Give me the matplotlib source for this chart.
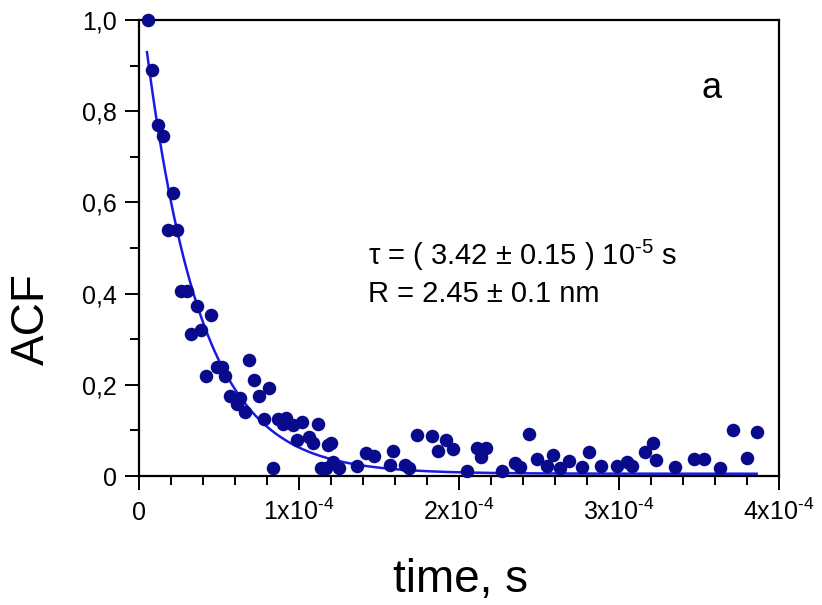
import numpy as np
import matplotlib
matplotlib.use("Agg")
import matplotlib.pyplot as plt

plt.rcParams['font.family'] = ['Liberation Sans', 'DejaVu Sans']
plt.rcParams['mathtext.fontset'] = 'custom'
plt.rcParams['mathtext.rm'] = 'Liberation Sans'
plt.rcParams['mathtext.it'] = 'Liberation Sans:italic'
plt.rcParams['mathtext.bf'] = 'Liberation Sans:bold'

# tiempo en unidades de 1e-5 s
tiempo = [0.56, 0.8, 1.2, 1.5, 1.8, 2.1, 2.4, 2.6, 3.0, 3.25, 3.6, 3.9, 4.2, 4.5,
          4.9, 5.2, 5.4, 5.7, 6.1, 6.3, 6.6, 6.9, 7.2, 7.5, 7.8, 8.1, 8.4, 8.7,
          9.0, 9.2, 9.6, 9.9, 10.2, 10.6, 10.9, 11.2, 11.4, 11.7, 11.8, 12.0,
          12.1, 12.5, 13.6, 14.2, 14.7, 15.7, 15.9, 16.6, 16.9, 17.4, 18.3,
          18.7, 19.2, 19.6, 20.5, 21.1, 21.4, 21.7, 22.7, 23.5, 23.8, 24.4,
          24.9, 25.5, 25.9, 26.3, 26.9, 27.7, 28.1, 28.9, 29.9, 30.5, 30.8,
          31.6, 32.1, 32.3, 33.5, 34.7, 35.3, 36.3, 37.1, 38.0, 38.6]
acf = [1.0, 0.89, 0.77, 0.745, 0.54, 0.62, 0.54, 0.405, 0.405, 0.311, 0.373, 0.32,
       0.22, 0.353, 0.24, 0.24, 0.22, 0.175, 0.158, 0.17, 0.14, 0.254, 0.21,
       0.175, 0.125, 0.193, 0.018, 0.125, 0.114, 0.127, 0.112, 0.079, 0.118,
       0.085, 0.072, 0.114, 0.018, 0.018, 0.068, 0.072, 0.03, 0.018, 0.022,
       0.05, 0.044, 0.024, 0.055, 0.024, 0.018, 0.09, 0.088, 0.055, 0.079,
       0.059, 0.011, 0.061, 0.042, 0.061, 0.011, 0.028, 0.02, 0.092, 0.037,
       0.022, 0.046, 0.018, 0.033, 0.02, 0.053, 0.022, 0.022, 0.031, 0.022,
       0.053, 0.072, 0.035, 0.02, 0.037, 0.037, 0.018, 0.1, 0.04, 0.096]

# parametros del ajuste exponencial
tau = 3.42e-5
amp = 1.07
base = 0.005
t_ini = 0.5e-5
t_fin = 3.86e-4

x_ticks = [0, 1e-4, 2e-4, 3e-4, 4e-4]
x_labels = ['0', r'1x10$^{\mathregular{‐4}}$', r'2x10$^{\mathregular{‐4}}$',
            r'3x10$^{\mathregular{‐4}}$', r'4x10$^{\mathregular{‐4}}$']
y_ticks = [0, 0.2, 0.4, 0.6, 0.8, 1.0]
y_labels = ['0', '0,2', '0,4', '0,6', '0,8', '1,0']

fig = plt.figure(figsize=(8.22, 6.05), dpi=100)
ax = fig.add_axes([139 / 822, 1 - 476 / 605, 640 / 822, 456 / 605])

t = np.array(tiempo) * 1e-5
ax.scatter(t, acf, s=95, color='#0a0a8c', zorder=3, clip_on=False, linewidths=0)

t_fit = np.linspace(t_ini, t_fin, 400)
ax.plot(t_fit, amp * np.exp(-t_fit / tau) + base, color='#1a1ae6', lw=1.8, zorder=2)

ax.set_xlim(0, 4e-4)
ax.set_ylim(0, 1.0)
ax.set_xticks(x_ticks)
ax.set_xticklabels(x_labels)
ax.set_yticks(y_ticks)
ax.set_yticklabels(y_labels)
ax.set_xticks(np.arange(0, 4.01e-4, 0.2e-4), minor=True)
ax.set_yticks(np.arange(0, 1.01, 0.1), minor=True)

ax.tick_params(which='major', direction='out', length=10, width=1.4, labelsize=18)
ax.tick_params(which='minor', direction='out', length=6.5, width=1.4)
ax.tick_params(axis='y', pad=6)
ax.tick_params(axis='x', pad=22)
for lab in ax.get_xticklabels():
    lab.set_verticalalignment('baseline')
for s in ax.spines.values():
    s.set_linewidth(1.6)

fig.text(32 / 822, 1 - 319 / 605, 'ACF', rotation=90, fontsize=33,
         ha='center', va='center')
fig.text(460 / 822, 1 - 580 / 605, 'time, s', fontsize=33, ha='center', va='center')
fig.text(712 / 822, 1 - 89 / 605, 'a', fontsize=26, ha='center', va='center')
fig.text(368 / 822, 1 - 255 / 605, r'τ = ( 3.42 ± 0.15 ) 10$^{\mathregular{‐5}}$ s',
         fontsize=21, ha='left', va='center')
fig.text(368 / 822, 1 - 294 / 605, 'R = 2.45 ± 0.1 nm', fontsize=21,
         ha='left', va='center')

fig.savefig('out.png', dpi=100)
